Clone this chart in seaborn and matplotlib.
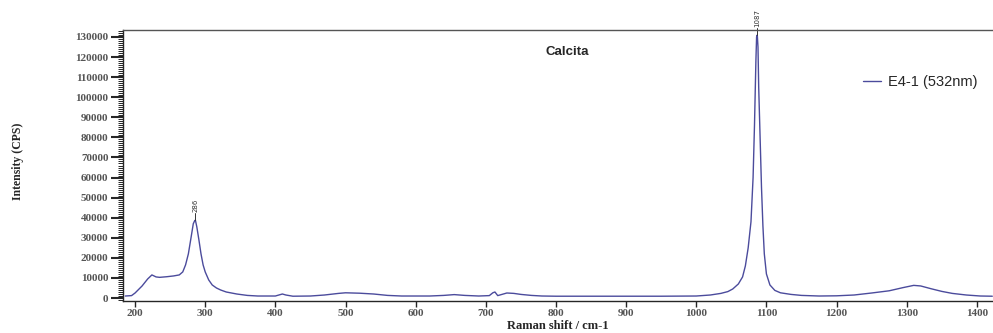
import numpy as np
import pandas as pd
import matplotlib
matplotlib.use('Agg')
import matplotlib.pyplot as plt
from matplotlib.ticker import MultipleLocator
import seaborn as sns

# Espectro Raman (cm-1, CPS)
shift = [186, 195, 200, 210, 218, 224, 230, 235, 245, 255, 263, 268, 272, 276, 280,
         283, 285, 286, 288, 291, 294, 297, 300, 305, 310, 316, 322, 330, 345, 360,
         375, 400, 405, 410, 415, 425, 450, 470, 490, 500, 520, 540, 560, 580, 600,
         620, 640, 655, 670, 690, 705, 710, 713, 717, 722, 730, 740, 750, 765, 780,
         800, 850, 900, 950, 1000, 1020, 1035, 1045, 1052, 1060, 1066, 1070, 1074, 1078,
         1081, 1083, 1085, 1086, 1087, 1088, 1089, 1091, 1093, 1095, 1097, 1100, 1105,
         1112, 1120, 1135, 1150, 1175, 1200, 1225, 1250, 1275, 1295, 1310, 1320, 1335,
         1350, 1365, 1385, 1405, 1422]
cps = [1000, 1200, 2500, 6000, 9500, 11500, 10500, 10300, 10600, 11000, 11500, 13000,
       16500, 22000, 30500, 37000, 38500, 38800, 35500, 29000, 22000, 16500, 13000, 9000,
       6500, 5000, 4000, 3000, 2000, 1300, 1000, 1000, 1500, 2000, 1500, 900, 1000, 1500,
       2300, 2600, 2400, 2000, 1300, 1000, 1000, 1000, 1300, 1700, 1300, 1000, 1200, 2600,
       3000, 1200, 1700, 2500, 2300, 1800, 1300, 1000, 900, 900, 900, 900, 1000, 1500,
       2300, 3200, 4500, 7000, 10500, 16000, 25000, 38000, 60000, 86000, 118000, 130000,
       131000, 125000, 105000, 80000, 55000, 36000, 22000, 12000, 6500, 3800, 2600, 1800,
       1300, 1000, 1100, 1500, 2500, 3600, 5200, 6300, 6000, 4600, 3300, 2300, 1500, 1000, 900]

peaks = [286, 1087]
peak_labels = ['286', '1087']

df = pd.DataFrame({'shift': shift, 'cps': cps})

sns.set_style('ticks')
fig = plt.figure(figsize=(9.93, 3.33), dpi=100)
ax = fig.add_axes([0.124, 0.096, 0.876, 0.814])

sns.lineplot(data=df, x='shift', y='cps', ax=ax, color='#4b4b9c', lw=1, label='E4-1 (532nm)')

ax.set_xlim(183, 1423)
ax.set_ylim(-1500, 133500)
ax.xaxis.set_major_locator(MultipleLocator(100))
ax.yaxis.set_major_locator(MultipleLocator(10000))
ax.yaxis.set_minor_locator(MultipleLocator(1000))
ax.tick_params(axis='y', which='major', direction='out', length=9, width=1.5, pad=1.5)
ax.tick_params(axis='y', which='minor', direction='out', length=3.5, width=0.7)
ax.tick_params(axis='x', which='major', direction='out', length=4, width=1, pad=2)
for lab in ax.get_xticklabels() + ax.get_yticklabels():
    lab.set_family('Liberation Serif')
    lab.set_fontweight('bold')
    lab.set_fontsize(8)
    lab.set_color('#555555')

ax.spines['right'].set_visible(False)
ax.spines['top'].set_color('#555555')
for s in ['left', 'bottom', 'top']:
    ax.spines[s].set_linewidth(1)

ax.set_xlabel('Raman shift / cm-1', family='Liberation Serif', fontweight='bold', fontsize=9, labelpad=1)
ax.set_ylabel('Intensity (CPS)', family='Liberation Serif', fontweight='bold', fontsize=8.5)
ax.yaxis.set_label_coords(24 / 993, (333 - 161) / 333, transform=fig.transFigure)

# etiquetas de los picos
for p, lab in zip(peaks, peak_labels):
    yv = df.loc[df['shift'] == p, 'cps'].values[0]
    ax.plot([p, p], [yv, yv + 3500], color='#333333', lw=0.7, clip_on=False)
    ax.text(p, yv + 4000, lab, rotation=90, ha='center', va='bottom', fontsize=5,
            color='#333333', clip_on=False)

fig.text(567 / 993, 1 - 55 / 333, 'Calcita', fontsize=9.5, fontweight='bold',
         family='Liberation Sans', ha='center')

ax.legend(loc='center left', bbox_to_anchor=(850 / 993, 1 - 82 / 333), bbox_transform=fig.transFigure,
          frameon=False, handlelength=1.2, handletextpad=0.5,
          prop={'family': 'Liberation Sans', 'size': 10.5})

fig.savefig('out.png', dpi=100)
